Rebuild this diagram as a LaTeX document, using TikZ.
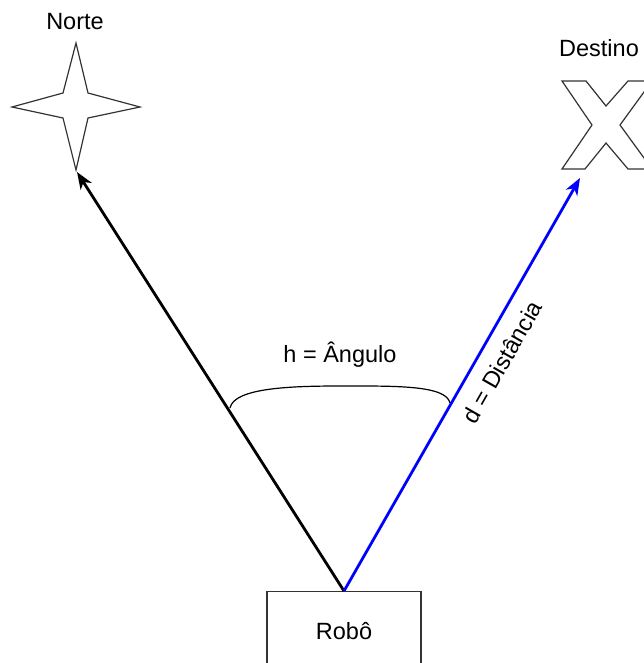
\documentclass[tikz,border=0pt]{standalone}
\usepackage{fontspec}
\setmainfont{Liberation Sans}
\usetikzlibrary{arrows.meta}
\definecolor{edge}{HTML}{333333}
\tikzset{
  lbl/.style={font=\fontsize{23.5}{28}\selectfont, inner sep=0pt},
  outline/.style={draw=edge, line width=1.2pt, line join=miter, fill=white},
  arrowline/.style={line width=2.8pt, -{Stealth[length=17pt,width=13pt,inset=5pt]}}
}
\begin{document}
\begin{tikzpicture}[x=1pt,y=-1pt]
\clip (0,0) rectangle (644,663);
\fill[white] (0,0) rectangle (644,663);
% star (Norte)
\draw[outline] (76,43) -- (88,93) -- (140,107) -- (88,118) -- (76,170) -- (63,118) -- (12,107) -- (63,93) -- cycle;
\coordinate (norteTip) at (77,172);
\node[lbl] (norte) at (75,22) {Norte};
% X (Destino)
\draw[outline] (562,81) -- (586,81) -- (606,106) -- (628,81) -- (652,81) -- (620,125) -- (652,169) -- (628,169) -- (606,143) -- (585,169) -- (562,169) -- (592,125) -- cycle;
\coordinate (destTip) at (580,178);
\node[lbl] (destino) at (599,48) {Destino};
% robot
\node[draw=edge, line width=1.2pt, minimum width=154pt, minimum height=78pt, anchor=north, font=\fontsize{23.5}{28}\selectfont] (robo) at (344,591) {Robô};
% arrows
\draw[arrowline, black] (robo.north) -- (norteTip);
\draw[arrowline, blue] (robo.north) -- (destTip);
% angle arc
\coordinate (arcL) at (230,408);
\coordinate (arcR) at (450,403);
\draw[line width=1.2pt] (arcL) .. controls (234,388) and (290,386) .. (340,386) .. controls (395,386) and (446,385) .. (arcR);
\node[lbl] (angulo) at (340,355) {h = Ângulo};
\node[lbl, rotate=60.3] (dist) at (502,362) {d = Distância};
\end{tikzpicture}
\end{document}
